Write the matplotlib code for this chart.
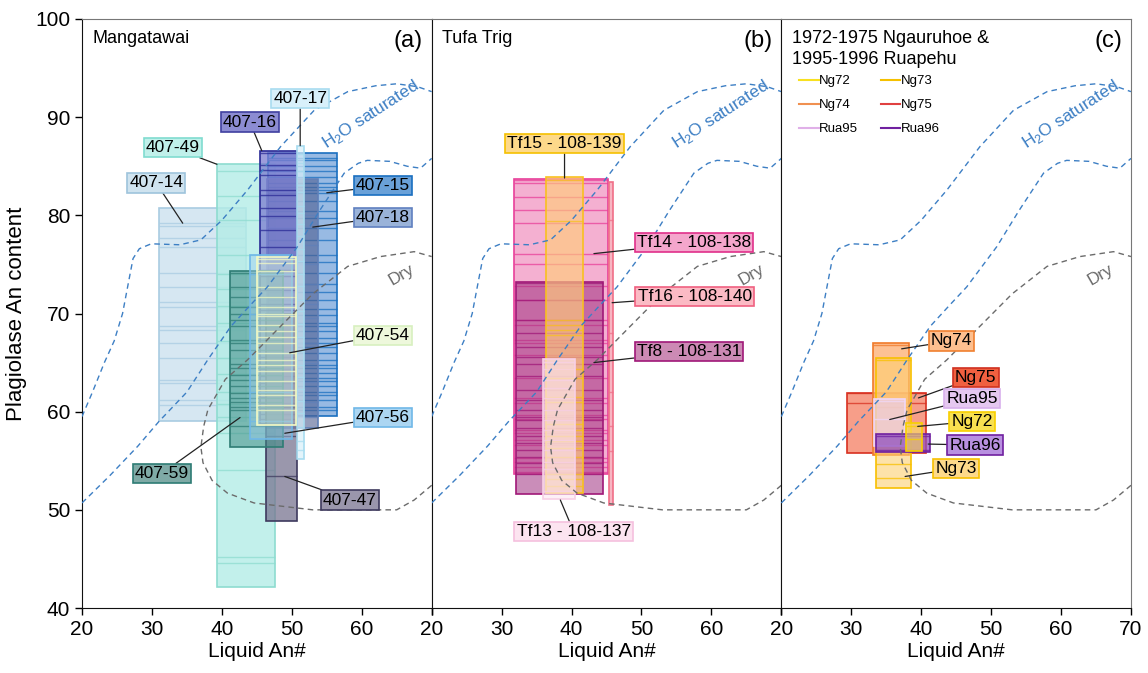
import matplotlib.pyplot as plt
from matplotlib.patches import Rectangle
from matplotlib.colors import to_rgba

plt.rcParams['font.family'] = ['Liberation Sans', 'DejaVu Sans']

# ---- model curves (same in every panel) ----
h2o_up_x = [20, 21.5, 23.2, 24.6, 25.8, 26.6, 27.3, 28.2, 29.9, 34, 37, 40, 43.7, 48.4, 53.2, 58, 62, 65, 68, 70]
h2o_up_y = [59.5, 62, 65, 67.2, 70, 73, 75.6, 76.6, 77.1, 77, 77.5, 79.5, 82.6, 87, 90.7, 92.6, 93.2, 93.4, 93.1, 92.6]
h2o_lo_x = [20, 24, 28, 31, 35, 38, 41.3, 44, 46.5, 50.8, 54, 57.5, 59.5, 60.8, 64, 66.5, 68.4, 70]
h2o_lo_y = [50.7, 53.5, 56.5, 59, 62, 65.3, 68.7, 70.8, 72.7, 76.8, 80.5, 84.3, 85.3, 85.6, 85.5, 85.0, 84.8, 85.8]
dry_x = [70, 67.5, 65, 53, 44.6, 40.8, 38.6, 37.3, 37, 37.4, 38, 40.5, 43.7, 48.4, 53, 58, 62.7, 67.5, 70]
dry_y = [52.5, 51, 50, 50, 50.7, 51.7, 53, 54.8, 56.4, 58.5, 60.2, 63.3, 65.3, 68.7, 72, 74.8, 75.8, 76.3, 75.8]

# ---- panel (a) Mangatawai ----
a_names = ['407-14', '407-49', '407-15', '407-18', '407-16', '407-47', '407-17', '407-59', '407-56', '407-54']
a_xmin = [31.0, 39.3, 46.6, 46.4, 45.4, 46.3, 50.8, 41.2, 44.0, 45.0]
a_xmax = [43.5, 47.6, 56.4, 53.8, 50.8, 50.7, 51.8, 48.7, 50.0, 50.6]
a_ymin = [59.1, 42.1, 59.6, 58.3, 58.7, 48.9, 55.2, 56.4, 57.2, 58.6]
a_ymax = [80.7, 85.2, 86.4, 83.7, 86.6, 70.0, 87.1, 74.3, 76.0, 75.8]
a_lines = [
    [79.2, 78.9, 77.7, 76.8, 74.1, 72.7, 71.2, 70.7, 68.7, 68.3, 67.0, 65.5, 63.2, 62.9, 61.2, 60.7],
    [84.5, 82.0, 79.5, 76.0, 74.0, 72.5, 70.8, 69.0, 67.2, 65.5, 63.8, 62.0, 60.8, 59.5, 57.8, 54.1, 45.2, 44.6],
    [85.8, 85.6, 85.0, 84.5, 83.9, 83.3, 82.9, 82.6, 82.3, 81.5, 80.4, 79.7, 78.7, 77.5, 76.0, 75.2, 74.1,
     73.0, 72.2, 71.4, 70.5, 69.8, 69.0, 68.7, 68.2, 67.5, 67.0, 66.6, 66.0, 65.3, 64.8, 64.4, 63.9, 63.4,
     63.1, 62.6, 62.0, 61.7, 61.2, 60.5, 60.2],
    [82.5, 80.0, 78.8, 77.0, 75.0, 73.0, 71.0, 69.5, 67.0, 65.0, 63.0, 61.0, 59.5],
    [86.3, 85.1, 84.6, 84.1, 82.6, 82.1, 80.7, 79.9, 78.5, 76.8, 74.4, 73.8, 72.4, 71.7, 71.0, 70.4, 69.7,
     68.3, 67.0, 65.6, 64.3, 63.6, 62.9, 62.2, 61.5, 60.9, 60.4, 59.8, 59.3],
    [60.5, 57.5, 53.4],
    [86.2, 85.3, 84.5, 83.1, 82.4, 81.0, 80.2, 79.1, 77.9, 76.6, 75.3, 74.0, 72.8, 71.4, 70.3, 68.9, 67.6,
     66.2, 64.8, 63.5, 62.3, 61.1, 59.9, 58.4, 57.0, 56.1],
    [74.1, 72.7, 71.7, 70.7, 69.9, 69.3, 68.7, 67.3, 67.0, 66.3, 64.9, 64.4, 63.7, 63.2, 62.6, 61.9, 61.4,
     61.0, 60.5, 60.2, 58.5],
    [74.0, 70.0, 66.0, 62.0, 59.0],
    [75.6, 75.1, 74.3, 72.7, 71.7, 70.7, 70.0, 69.7, 68.8, 68.2, 67.6, 67.0, 66.0, 65.3, 64.8, 64.1, 63.1,
     62.2, 61.7, 60.7, 60.2],
]
a_lab_xy = [(30.6, 83.3), (33, 86.9), (63, 83.0), (63, 79.8), (44, 89.5), (58.3, 51.0),
            (51.2, 91.9), (31.4, 53.7), (63, 59.4), (63, 67.8)]
a_lab_pt = [(34.4, 79.2), (39.3, 85.2), (55, 82.3), (53, 78.8), (45.7, 86.6), (49, 53.4),
            (51.2, 87.1), (42.6, 59.4), (49, 57.8), (49.7, 66.0)]

# ---- panel (b) Tufa Trig ----
b_names = ['Tf14 - 108-138', 'Tf16 - 108-140', 'Tf8 - 108-131', 'Tf15 - 108-139', 'Tf13 - 108-137']
b_xmin = [31.8, 45.4, 32.1, 36.4, 35.9]
b_xmax = [45.2, 46.0, 44.5, 41.7, 40.5]
b_ymin = [53.7, 50.5, 51.6, 51.7, 51.1]
b_ymax = [83.7, 83.4, 73.2, 83.9, 65.4]
b_lines = [
    [83.6, 83.3, 81.9, 80.5, 79.2, 76.1, 75.0, 72.8, 71.4, 69.3, 68.8, 67.3, 67.0, 65.8, 63.4, 61.4, 60.9,
     59.7, 59.3, 58.1, 57.8, 57.1, 56.6, 55.3, 54.9, 54.4, 53.9],
    [79.5, 68.0, 62.0, 58.5, 56.0],
    [73.1, 71.4, 69.3, 68.0, 66.6, 65.6, 64.9, 63.6, 62.2, 61.2, 60.2, 59.5, 59.2, 58.3, 57.5, 56.8, 56.1,
     55.4, 54.8, 53.7],
    [83.6, 79.4, 69.3, 68.8, 68.3, 67.8, 64.3, 63.4, 61.5, 61.0, 58.7, 58.1, 57.5, 57.0, 56.3, 55.4, 53.6,
     53.1, 52.4],
    [65.1, 64.3, 63.2, 62.4, 61.4, 60.2, 59.2, 58.1, 57.1, 56.1, 54.9, 54.2, 51.9],
]
b_lab_xy = [(57.5, 77.2), (57.6, 71.7), (56.8, 66.1), (39, 87.3), (40.3, 47.8)]
b_lab_pt = [(43.2, 76.1), (45.8, 71.1), (43.2, 65.0), (39, 83.8), (38.4, 51.0)]

# ---- panel (c) Ngauruhoe & Ruapehu ----
c_names = ['Ng75', 'Ng74', 'Ng73', 'Rua95', 'Rua96', 'Ng72']
c_xmin = [29.4, 33.05, 33.6, 33.2, 33.5, 37.8]
c_xmax = [40.7, 38.2, 38.5, 37.7, 41.2, 40.1]
c_ymin = [55.8, 55.6, 52.2, 56.5, 55.9, 56.0]
c_ymax = [61.9, 67.0, 65.5, 61.3, 57.7, 58.8]
c_lines = [[61.9, 60.9], [66.8, 60.5], [65.3, 54.7, 53.2], [61.1, 59.3, 57.5], [57.5, 56.1], [58.5, 57.2]]
c_lab_xy = [(47.8, 63.5), (44.3, 67.2), (45, 54.2), (47.3, 61.3), (47.7, 56.6), (47.3, 59.0)]
c_lab_pt = [(39.6, 61.4), (37.2, 66.4), (37.7, 53.4), (35.5, 59.2), (41, 56.7), (39.5, 58.5)]
legend_order = ['Ng72', 'Ng74', 'Rua95', 'Ng73', 'Ng75', 'Rua96']

# styles: fill, alpha, edge, label fill, label edge
a_sty = [('#c9dfee', 0.75, '#a9cce2', '#cfe3ef', '#9ec4dc'),
         ('#b3ede6', 0.80, '#8edcd0', '#c0f0ea', '#80dcd0'),
         ('#86aedf', 0.85, '#1a6fc0', '#6aa1d8', '#1a6fc0'),
         ('#4e5e90', 0.60, '#6080b8', '#9ab3d9', '#6080c0'),
         ('#7c7cd0', 0.75, '#2a2a96', '#8c8cd2', '#4040a0'),
         ('#787490', 0.75, '#3e3a5e', '#9a96ac', '#3e3a5e'),
         ('#d8f0fa', 0.70, '#a8dcf0', '#d8f0fa', '#a8dcf0'),
         ('#3d8c84', 0.55, '#2e7c74', '#7faaa6', '#2e7c74'),
         ('#9ccbee', 0.45, '#70b8e8', '#acd6f2', '#70b8e8'),
         ('#f0f8d0', 0.30, '#f4fac4', '#eef8dc', '#d8f0c0')]
b_sty = [('#f29cc6', 0.80, '#e8409a', '#f4a6cc', '#e0308a'),
         ('#f7a8b8', 0.85, '#f06f88', '#fbbac4', '#f06080'),
         ('#a03080', 0.55, '#a01878', '#cc8ab4', '#a01878'),
         ('#ffcc7a', 0.65, '#f8c020', '#fdd98a', '#f5c000'),
         ('#fde8f2', 0.65, '#f8d0e6', '#fce4f0', '#f5c0de')]
c_sty = [('#f46a4a', 0.65, '#d83020', '#f06040', '#d03020'),
         ('#fdb27a', 0.80, '#f07a2a', '#fdbf8f', '#f08030'),
         ('#fdd070', 0.60, '#f8c000', '#fdd98a', '#f8c000'),
         ('#ead0f0', 0.70, '#f0d8f8', '#e5c8f0', '#d8b0ec'),
         ('#9050c0', 0.75, '#7020a0', '#b890e0', '#7020a0'),
         ('#f8e060', 0.60, '#f8d000', '#f8e050', '#f8d000')]
legend_colors = {'Ng72': '#f8e020', 'Ng73': '#f5c000', 'Ng74': '#f09050',
                 'Ng75': '#e04040', 'Rua95': '#e0b0e8', 'Rua96': '#7020a0'}


def draw_panel(ax, names, x0, x1, y0, y1, lines, sty, lab_xy, lab_pt, fs):
    for i in range(len(names)):
        fc, al, ec, lfc, lec = sty[i]
        z = 2 + i
        ax.add_patch(Rectangle((x0[i], y0[i]), x1[i] - x0[i], y1[i] - y0[i],
                               facecolor=to_rgba(fc, al), edgecolor=ec, lw=1.2, zorder=z))
        ax.hlines(lines[i], x0[i], x1[i], colors=ec, lw=1.0, alpha=0.75, zorder=z + 0.5)
        ax.annotate(names[i], xy=lab_pt[i], xytext=lab_xy[i], ha='center', va='center',
                    fontsize=fs, zorder=40,
                    bbox=dict(boxstyle='square,pad=0.12', fc=lfc, ec=lec, lw=1.2),
                    arrowprops=dict(arrowstyle='-', color='#222222', lw=0.9,
                                    shrinkA=0, shrinkB=0))


def draw_curves(ax):
    ax.plot(h2o_up_x, h2o_up_y, color='#3d7fc4', lw=1.0, dashes=(4, 3), zorder=30)
    ax.plot(h2o_lo_x, h2o_lo_y, color='#3d7fc4', lw=1.0, dashes=(4, 3), zorder=30)
    ax.plot(dry_x, dry_y, color='#6b6b6b', lw=1.0, dashes=(4, 3), zorder=30)
    ax.text(61.3, 90.3, r'H$_\mathregular{2}$O saturated', color='#3d7fc4', fontsize=12.5,
            rotation=33, ha='center', va='center', zorder=31)
    ax.text(65.7, 73.9, 'Dry', color='#6b6b6b', fontsize=12.5, rotation=30,
            ha='center', va='center', zorder=31)


fig = plt.figure(figsize=(11.48, 6.73), dpi=100)
left, right, bottom, top = 82 / 1148, 1131 / 1148, 1 - 608 / 673, 1 - 19 / 673
w = (right - left) / 3
axes = [fig.add_axes([left + k * w, bottom, w, top - bottom]) for k in range(3)]

for k, ax in enumerate(axes):
    ax.set_xlim(20, 70)
    ax.set_ylim(40, 100)
    ax.set_xticks([20, 30, 40, 50, 60, 70])
    if k < 2:
        ax.set_xticklabels(['20', '30', '40', '50', '60', ''])
    ax.set_yticks([40, 50, 60, 70, 80, 90, 100])
    ax.tick_params(labelsize=15, length=5, width=1, direction='out')
    if k > 0:
        ax.tick_params(axis='y', left=False, labelleft=False)
    ax.set_xlabel('Liquid An#', fontsize=15, labelpad=2)
    for s in ['top', 'right']:
        ax.spines[s].set_color('#777777')
    for s in ['left', 'bottom']:
        ax.spines[s].set_color('#111111')
    draw_curves(ax)

axes[0].set_ylabel('Plagiolase An content', fontsize=16, labelpad=6)

draw_panel(axes[0], a_names, a_xmin, a_xmax, a_ymin, a_ymax, a_lines, a_sty, a_lab_xy, a_lab_pt, 12.5)
draw_panel(axes[1], b_names, b_xmin, b_xmax, b_ymin, b_ymax, b_lines, b_sty, b_lab_xy, b_lab_pt, 12.5)
draw_panel(axes[2], c_names, c_xmin, c_xmax, c_ymin, c_ymax, c_lines, c_sty, c_lab_xy, c_lab_pt, 12.5)

titles = ['Mangatawai', 'Tufa Trig', '1972-1975 Ngauruhoe &\n1995-1996 Ruapehu']
tags = ['(a)', '(b)', '(c)']
for ax, t, g in zip(axes, titles, tags):
    ax.text(0.03, 0.982, t, transform=ax.transAxes, fontsize=13, ha='left', va='top',
            linespacing=1.3, zorder=50)
    ax.text(0.975, 0.963, g, transform=ax.transAxes, fontsize=17, ha='right', va='center', zorder=50)

handles = [axes[2].plot([], [], color=legend_colors[n], lw=1.5)[0] for n in legend_order]
axes[2].legend(handles, legend_order, ncol=2, loc='upper left', bbox_to_anchor=(0.05, 0.905),
               frameon=False, fontsize=9.5, handlelength=1.5, handletextpad=0.05,
               labelspacing=0.9, columnspacing=1.7, borderpad=0, borderaxespad=0)

fig.savefig('out.png', dpi=100)
